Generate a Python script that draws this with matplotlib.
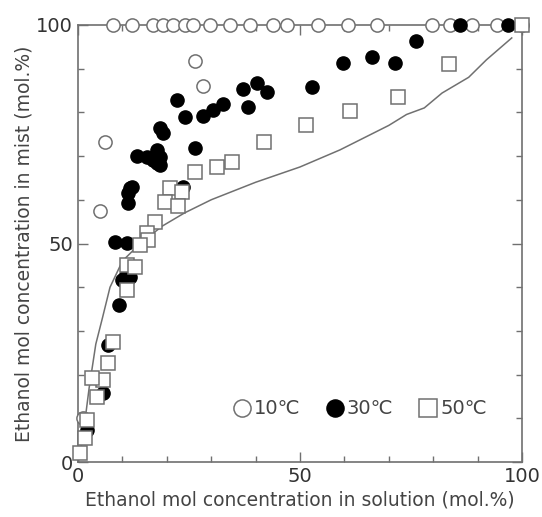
import matplotlib.pyplot as plt
from matplotlib.ticker import MultipleLocator

plt.rcParams['font.family'] = ['DejaVu Sans', 'Noto Sans CJK JP']

# 10 C (open circles)
x10 = [7.9, 12.2, 16.9, 19.1, 21.4, 24.1, 25.9, 29.7, 34.2, 38.7, 43.9, 47.1,
       54.1, 60.8, 67.3, 79.7, 83.8, 88.7, 94.4, 100.0,
       1.2, 5.0, 6.1, 26.4, 28.2]
y10 = [100.0] * 20 + [10.0, 57.4, 73.2, 91.8, 86.0]

# 30 C (filled circles)
x30 = [86.0, 96.8, 76.1, 59.7, 66.2, 71.4, 52.7, 22.3, 24.1, 26.4, 28.2, 30.4,
       32.7, 37.2, 38.3, 40.3, 42.6, 18.5, 19.1, 17.8, 17.8, 18.5, 13.3, 15.5,
       16.9, 18.5, 12.2, 11.3, 11.7, 11.3, 23.6, 8.3, 11.0, 10.6, 11.7, 9.9,
       9.2, 6.8, 5.6, 2.0]
y30 = [100.0, 100.0, 96.3, 91.3, 92.7, 91.3, 85.8, 82.8, 79.0, 71.8, 79.2, 80.5,
       81.9, 85.4, 81.2, 86.7, 84.6, 76.4, 75.2, 71.4, 68.4, 69.8, 70.0, 69.8,
       69.1, 68.0, 63.0, 61.6, 62.7, 59.3, 62.9, 50.3, 50.1, 42.3, 42.3, 41.6,
       35.9, 26.8, 15.8, 7.3]

# 50 C (open squares)
x50 = [100.0, 83.6, 72.1, 61.3, 51.4, 41.9, 34.7, 31.3, 26.4, 20.7, 23.4, 19.6,
       22.5, 17.3, 15.5, 15.8, 14.0, 11.0, 12.8, 11.0, 7.9, 6.8, 5.6, 3.2,
       4.3, 2.0, 1.6, 0.5]
y50 = [100.0, 91.1, 83.5, 80.3, 77.1, 73.2, 68.6, 67.5, 66.4, 62.7, 61.8, 59.5,
       58.6, 54.9, 52.4, 50.8, 49.7, 45.1, 44.6, 39.4, 27.5, 22.7, 18.8, 19.2,
       14.9, 9.6, 5.5, 2.0]

# equilibrium curve
x_eq = [0, 1, 2.5, 4, 5.5, 7.2, 10, 14, 19, 24, 30, 40, 50, 59, 70, 74, 78,
        82, 88, 92, 97.7]
y_eq = [0, 5, 17, 27, 33, 40, 46, 50, 54, 57, 60, 64, 67.5, 71.4, 77, 79.5,
        81, 84.4, 88, 92, 97]

gray = '#707070'

fig = plt.figure(figsize=(5.42, 5.17), dpi=100)
ax = fig.add_axes([0.144, 0.106, 0.819, 0.846])

ax.plot(x_eq, y_eq, color=gray, lw=1.1)
ax.plot(x10, y10, 'o', ms=9.5, mfc='white', mec=gray, mew=1.1,
        linestyle='none', clip_on=False, zorder=3, label='10℃')
ax.plot(x30, y30, 'o', ms=9.5, mfc='black', mec='black',
        linestyle='none', clip_on=False, zorder=4, label='30℃')
ax.plot(x50, y50, 's', ms=9.5, mfc='white', mec=gray, mew=1.1,
        linestyle='none', clip_on=False, zorder=5, label='50℃')

ax.set_xlim(0, 100)
ax.set_ylim(0, 100)
ax.xaxis.set_major_locator(MultipleLocator(50))
ax.yaxis.set_major_locator(MultipleLocator(50))
ax.xaxis.set_minor_locator(MultipleLocator(10))
ax.yaxis.set_minor_locator(MultipleLocator(10))
ax.tick_params(which='both', direction='in', top=True, right=True,
               color=gray, labelcolor='#333333', labelsize=14)
ax.tick_params(which='major', length=7, width=1)
ax.tick_params(which='minor', length=4, width=1)
for s in ax.spines.values():
    s.set_color(gray)
    s.set_linewidth(1.2)

ax.set_xlabel('Ethanol mol concentration in solution (mol.%)', fontsize=13.5,
              color='#444444', labelpad=3)
ax.set_ylabel('Ethanol mol concentration in mist (mol.%)', fontsize=13.5,
              color='#444444', labelpad=2)

leg = ax.legend(loc='lower right', bbox_to_anchor=(0.96, 0.06), ncol=3,
                frameon=False, fontsize=14, markerscale=1.3, handlelength=0.6,
                handletextpad=0.3, columnspacing=1.5, labelcolor='#444444')

fig.savefig('out.png', dpi=100)
